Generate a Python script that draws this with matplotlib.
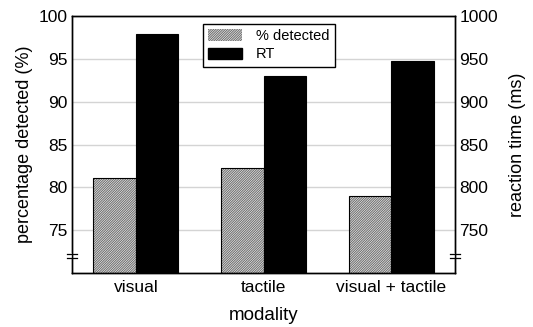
import matplotlib
matplotlib.use("Agg")
import matplotlib.pyplot as plt
import numpy as np

categories = ["visual", "tactile", "visual + tactile"]
pct_detected = [81.1, 82.3, 79.0]
rt_ms = [979, 930, 947]
left_ticks = [75, 80, 85, 90, 95, 100]
right_ticks = [750, 800, 850, 900, 950, 1000]

plt.rcParams['font.family'] = ['Liberation Sans', 'DejaVu Sans']
plt.rcParams['hatch.linewidth'] = 0.8

fig = plt.figure(figsize=(5.33, 3.27), dpi=100)
ax = fig.add_axes([72/533, 1-273/327, (455-72)/533, (273-16)/327])
ax2 = ax.twinx()

x = np.arange(len(categories))
w = 1/3
HATCH = '/' * 14

# hatched bars (fill with grey hatch, then black outline)
ax.bar(x - w/2, pct_detected, width=w, facecolor='white',
       edgecolor='#707070', hatch=HATCH, linewidth=0, zorder=2)
ax.bar(x - w/2, pct_detected, width=w, facecolor='none',
       edgecolor='black', linewidth=0.8, zorder=3)
ax2.bar(x + w/2, rt_ms, width=w, color='black', edgecolor='black',
        linewidth=0.8, zorder=3)

ax.set_xlim(-0.5, 2.5)
ax.set_ylim(70, 100)
ax2.set_ylim(700, 1000)
ax.set_yticks(left_ticks)
ax2.set_yticks(right_ticks)
ax.set_xticks(x)
ax.set_xticklabels(categories)

ax.yaxis.grid(True, color='#d4d4d4', linewidth=1.0, zorder=0)
ax.set_axisbelow(True)

for a in (ax, ax2):
    a.tick_params(axis='both', length=0, labelsize=12.5, pad=3)
    for s in a.spines.values():
        s.set_linewidth(1.0)
        s.set_color('black')
ax.tick_params(axis='x', pad=5)

ax.set_ylabel("percentage detected (%)", fontsize=13, labelpad=4)
ax2.set_ylabel("reaction time (ms)", fontsize=13, labelpad=8)
ax.set_xlabel("modality", fontsize=13.5, labelpad=9)

# axis break marks
for xpos in (0, 1):
    for yb in (72.2, 71.7):
        ax.plot([xpos - 0.013, xpos + 0.013], [yb, yb], transform=ax.get_yaxis_transform(),
                color='black', linewidth=0.9, clip_on=False, zorder=10)
    ax.plot([xpos, xpos], [71.7, 72.2], transform=ax.get_yaxis_transform(),
            color='white', linewidth=1.5, clip_on=False, zorder=9)

# legend
from matplotlib.patches import Patch
handles = [Patch(facecolor='white', edgecolor='#707070', hatch=HATCH, linewidth=0),
           Patch(facecolor='black', edgecolor='black')]
leg = ax2.legend(handles, ["% detected", "RT"], loc='upper left',
                 bbox_to_anchor=((203-72)/383, (273-24)/257), fancybox=False,
                 edgecolor='black', framealpha=1, fontsize=10.5, handlelength=2.3,
                 handleheight=0.8, borderpad=0.35, labelspacing=0.3, handletextpad=1.0,
                 borderaxespad=0)
leg.get_frame().set_linewidth(1.0)
leg.set_zorder(20)

fig.savefig("out.png", dpi=100)
